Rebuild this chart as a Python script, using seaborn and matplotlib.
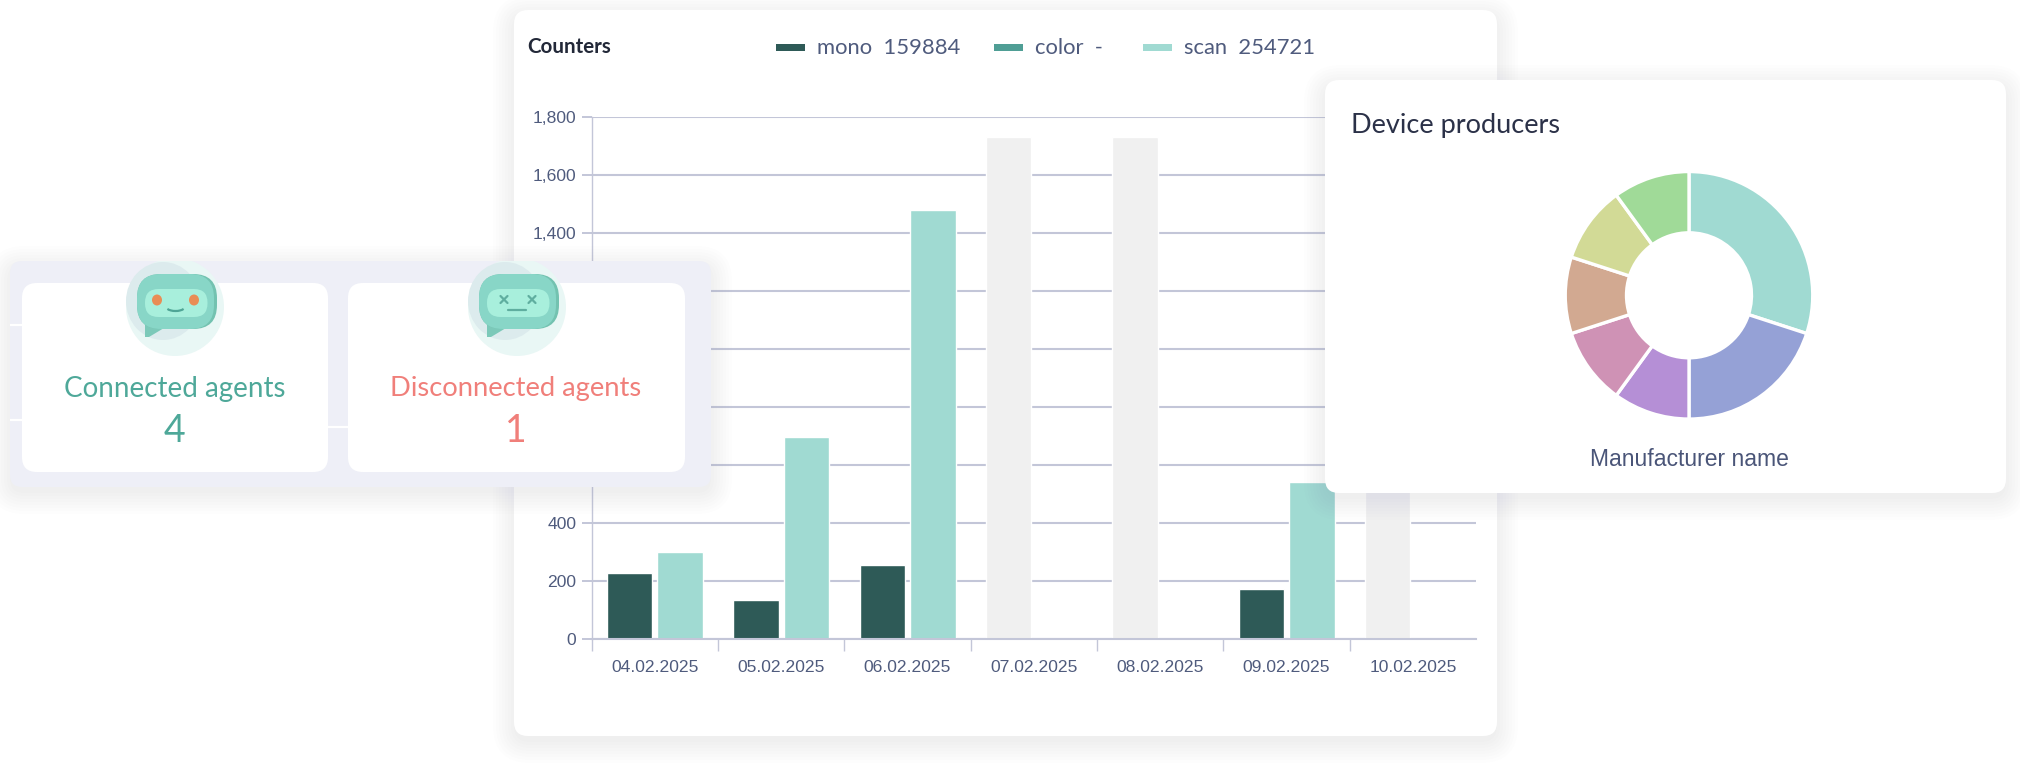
import matplotlib
matplotlib.use("Agg")
import matplotlib.pyplot as plt
from matplotlib.patches import FancyBboxPatch, Ellipse, Polygon, Rectangle, Arc
import pandas as pd
import seaborn as sns

dates = ["04.02.2025", "05.02.2025", "06.02.2025", "07.02.2025", "08.02.2025", "09.02.2025", "10.02.2025"]
mono_values = [227, 135, 255, None, None, 171, None]
scan_values = [301, 695, 1480, None, None, 540, None]
no_data_values = [None, None, None, 1732, 1732, None, 1732]
y_ticks = [0, 200, 400, 600, 800, 1000, 1200, 1400, 1600, 1800]

legend_names = ["mono", "color", "scan"]
legend_counts = ["159884", "-", "254721"]

donut_shares = [30, 20, 10, 10, 10, 10, 10]
donut_colors = ["#A0DAD2", "#95A1D6", "#B58FD6", "#CF92B5", "#D2A991", "#D2DA96", "#A0DA98"]

agent_labels = ["Connected agents", "Disconnected agents"]
agent_counts = [4, 1]

W, H = 2020, 763
DARK = "#2E5A57"
MID = "#4F9E95"
LIGHT = "#A0DAD2"
GREY = "#F0F0F0"
GRID = "#C3C6D8"
TICK_TEXT = "#4F5B7D"
GEO_FONT = "Lato"
ARIAL = "Liberation Sans"

sns.set_theme(style="white")
plt.rcParams["font.family"] = [ARIAL, "DejaVu Sans"]

fig = plt.figure(figsize=(W / 100, H / 100), dpi=100, facecolor="white")


def pixel_axes(zorder):
    ax = fig.add_axes([0, 0, 1, 1], zorder=zorder)
    ax.set_xlim(0, W)
    ax.set_ylim(H, 0)
    ax.axis("off")
    return ax


def box_axes(left, top, right, bottom, zorder):
    return fig.add_axes([left / W, 1 - bottom / H, (right - left) / W, (bottom - top) / H], zorder=zorder)


def card(ax, x0, y0, x1, y1, color="white", radius=14, shadow=True):
    if shadow:
        for spread in range(2, 26, 3):
            ax.add_patch(FancyBboxPatch(
                (x0 - spread + 2, y0 - spread + 8), x1 - x0 + 2 * spread - 4, y1 - y0 + 2 * spread - 4,
                boxstyle=f"round,pad=0,rounding_size={radius + spread}",
                fc="#4A5070", ec="none", alpha=0.007))
    ax.add_patch(FancyBboxPatch((x0, y0), x1 - x0, y1 - y0, boxstyle=f"round,pad=0,rounding_size={radius}",
                                fc=color, ec="none"))


def robot(ax, cx, happy):
    # halo is cut off at the top of the panel in the original
    clip = Rectangle((0, 261), W, H, transform=ax.transData)
    for patch in [Ellipse((cx, 307), 98, 98, fc="#E9F7F5", ec="none"),
                  Ellipse((cx - 12, 301), 74, 78, fc="#DCEBED", ec="none")]:
        ax.add_patch(patch)
        patch.set_clip_path(clip)
    ax.add_patch(Polygon([(cx - 30, 322), (cx - 30, 337), (cx - 26, 337), (cx - 6, 325)], fc="#7CC9B9", ec="none"))
    ax.add_patch(FancyBboxPatch((cx - 38, 274), 80, 55, boxstyle="round,pad=0,rounding_size=24", fc="#73C2B0", ec="none"))
    ax.add_patch(FancyBboxPatch((cx - 38, 274), 77, 55, boxstyle="round,pad=0,rounding_size=24", fc="#88D6C7", ec="none"))
    ax.add_patch(FancyBboxPatch((cx - 30, 289), 62.5, 28, boxstyle="round,pad=0,rounding_size=13.5", fc="#A8EFDC", ec="none"))
    if happy:
        for ex in (cx - 18, cx + 19):
            ax.add_patch(Ellipse((ex, 300), 10, 11, fc="#E98D55", ec="none"))
        ax.add_patch(Arc((cx + 0.5, 306), 20, 10, theta1=20, theta2=160, ec="#4FA596", lw=1.6))
    else:
        for ex in (cx - 13, cx + 15):
            ax.plot([ex - 3.5, ex + 3.5], [296, 303], color="#5FAE9F", lw=1.6)
            ax.plot([ex - 3.5, ex + 3.5], [303, 296], color="#5FAE9F", lw=1.6)
        ax.plot([cx - 9, cx + 9], [310, 310], color="#5FAE9F", lw=1.6)


# big counters card
back = pixel_axes(0)
card(back, 514, 10, 1497, 736)
back.text(527, 47, "Counters", family=GEO_FONT, weight="bold", fontsize=14.8, color="#222838", va="center")

legend_colors = [DARK, MID, LIGHT]
legend_x = [776, 994, 1143]
for name, count, color, lx in zip(legend_names, legend_counts, legend_colors, legend_x):
    back.add_patch(Rectangle((lx, 44), 29, 6.5, fc=color, ec="none"))
    back.text(lx + 41, 47.5, f"{name}  {count}", family=GEO_FONT, fontsize=15.8, color=TICK_TEXT, va="center")

# bar chart
ax = box_axes(591.7, 117, 1476, 639, 1)
ax.patch.set_alpha(0)

series_order = ["mono", "scan"]
bars = pd.DataFrame({
    "date": dates * 2,
    "series": ["mono"] * len(dates) + ["scan"] * len(dates),
    "value": mono_values + scan_values,
}).dropna()
no_data = pd.DataFrame({"date": dates, "series": "mono", "value": no_data_values}).dropna()

sns.barplot(data=no_data, x="date", y="value", hue="series", hue_order=series_order, order=dates, dodge=True,
            palette={"mono": GREY, "scan": GREY}, saturation=1, errorbar=None, legend=False, gap=0.1, width=0.8, ax=ax, zorder=3)
sns.barplot(data=bars, x="date", y="value", hue="series", hue_order=series_order, order=dates, dodge=True,
            palette={"mono": DARK, "scan": LIGHT}, saturation=1, errorbar=None, legend=False, gap=0.1, width=0.8, ax=ax, zorder=3)

ax.set_xlim(-0.5, 6.5)
ax.set_ylim(0, 1800)
ax.set_xlabel("")
ax.set_ylabel("")
ax.set_yticks(y_ticks)
ax.set_yticklabels([f"{v:,}" for v in y_ticks], fontsize=12.6, color=TICK_TEXT)
ax.set_xticks(range(len(dates)))
ax.set_xticklabels(dates, fontsize=12.6, color=TICK_TEXT)
ax.set_xticks([i - 0.5 for i in range(len(dates))], minor=True)
ax.tick_params(axis="x", which="major", length=0, pad=15)
ax.tick_params(axis="x", which="minor", length=8.5, width=1, color=GRID, bottom=True)
ax.tick_params(axis="y", length=7, width=1.4, color=GRID, pad=4, left=True)
ax.grid(axis="y", color=GRID, lw=1.5, zorder=0)
ax.set_axisbelow(True)
sns.despine(ax=ax, top=True, right=True)
ax.spines["left"].set_color(GRID)
ax.spines["left"].set_linewidth(1)
ax.spines["bottom"].set_color(GRID)
ax.spines["bottom"].set_linewidth(1.5)
ax.spines["bottom"].set_zorder(5)

# floating cards on top
front = pixel_axes(2)
card(front, 10, 261, 711, 487, color="#EEEFF7", radius=12)
# chart grid lines show through the panel in a few places
for x0, x1, gy in [(10, 22, 325), (10, 22, 420), (328, 348, 427)]:
    front.plot([x0, x1], [gy, gy], color="white", lw=1.6, solid_capstyle="butt")
card(front, 22, 283, 328, 472, radius=15, shadow=False)
card(front, 348, 283, 685, 472, radius=15, shadow=False)
robot(front, 175, True)
robot(front, 517, False)

front.text(175, 388.5, agent_labels[0], family=GEO_FONT, fontsize=20, color="#4EA899", ha="center", va="center")
front.text(175, 431, str(agent_counts[0]), family=GEO_FONT, fontsize=27, color="#4EA899", ha="center", va="center")
front.text(516, 388.5, agent_labels[1], family=GEO_FONT, fontsize=19.7, color="#F07F7A", ha="center", va="center")
front.text(516, 431, str(agent_counts[1]), family=GEO_FONT, fontsize=27, color="#F07F7A", ha="center", va="center")

card(front, 1325, 80, 2006, 493, radius=14)
front.text(1351, 125, "Device producers", family=GEO_FONT, fontsize=19.5, color="#2B3148", va="center")
front.text(1689, 459, "Manufacturer name", family=ARIAL, fontsize=16.5, color="#4A5578", ha="center", va="center")

# donut
pie_ax = box_axes(1689 - 125, 295.3 - 125, 1689 + 125, 295.3 + 125, 3)
pie_ax.pie(donut_shares, colors=donut_colors, startangle=90, counterclock=False, radius=0.99,
           wedgeprops={"width": 0.49, "edgecolor": "white", "linewidth": 2.4})
pie_ax.set_xlim(-1, 1)
pie_ax.set_ylim(-1, 1)

fig.savefig("out.png", dpi=100, facecolor="white")
